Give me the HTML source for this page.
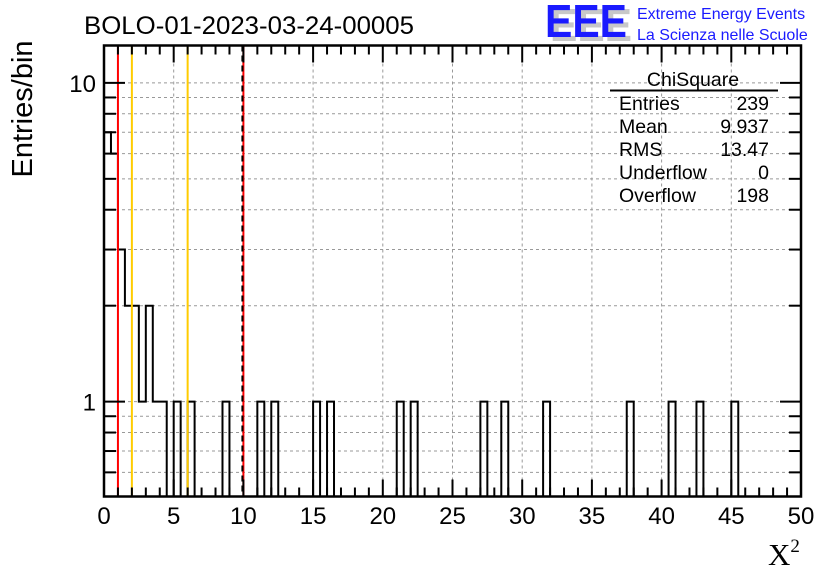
<!DOCTYPE html>
<html><head><meta charset="utf-8"><style>
html,body{margin:0;padding:0;background:#fff;}
svg{display:block;font-family:"Liberation Sans",sans-serif;}
</style></head><body>
<svg id="chart" width="836" height="572" viewBox="0 0 836 572" xmlns="http://www.w3.org/2000/svg">
<rect x="0" y="0" width="836" height="572" fill="#fff"/>
<g id="grid"></g>
<g id="hist"></g>
<g id="vlines"></g>
<g id="axes"></g>
<text x="84" y="34" font-size="25" textLength="330" lengthAdjust="spacingAndGlyphs">BOLO-01-2023-03-24-00005</text>
<g>
<text x="550" y="41" font-size="46" font-weight="bold" fill="#c8c8c8" textLength="82" lengthAdjust="spacingAndGlyphs">EEE</text>
<text x="545" y="37" font-size="46" font-weight="bold" fill="#1a1aff" textLength="82" lengthAdjust="spacingAndGlyphs">EEE</text>
<text x="637" y="19" font-size="16" fill="#1a1aff">Extreme Energy Events</text>
<text x="637" y="40" font-size="16" fill="#1a1aff">La Scienza nelle Scuole</text>
</g>
<g font-size="19.5">
<text x="693" y="86" text-anchor="middle">ChiSquare</text>
<line x1="610" y1="90.5" x2="778" y2="90.5" stroke="#000" stroke-width="2"/>
<text x="619" y="110">Entries</text><text x="769" y="110" text-anchor="end">239</text>
<text x="619" y="133">Mean</text><text x="769" y="133" text-anchor="end">9.937</text>
<text x="619" y="156">RMS</text><text x="769" y="156" text-anchor="end">13.47</text>
<text x="619" y="179">Underflow</text><text x="769" y="179" text-anchor="end">0</text>
<text x="619" y="202">Overflow</text><text x="769" y="202" text-anchor="end">198</text>
</g>
<text transform="translate(32,109) rotate(-90)" text-anchor="middle" font-size="29">Entries/bin</text>
<text x="768" y="565" font-family="'Liberation Serif',serif" font-size="31">X<tspan font-size="19" dy="-13">2</tspan></text>
</svg>
<script>
// Data
const binEdgesLow = [0,0.5,1,1.5,2,2.5,3,3.5,4,5,6,8.5,11,12,15,16,21,22,27,28.5,31.5,37.5,40.5,42.5,45];
const binCounts   = [7,6,3,2,2,1,2,1,1,1,1,1,1,1,1,1,1,1,1,1,1,1,1,1,1];
const binWidth = 0.5;
const xTicks = [0,5,10,15,20,25,30,35,40,45,50];
const yTickLabels = [1,10];
const cutLinesRed = [1,10];
const cutLinesYellow = [2,6];

const X0=104, X1=801, Y0=496.5, Y1=45.5;
const xMin=0, xMax=50, yMin=0.504, yMax=13.1;
const sx = v => X0 + (v-xMin)/(xMax-xMin)*(X1-X0);
const sy = v => Y0 - (Math.log10(v)-Math.log10(yMin))/(Math.log10(yMax)-Math.log10(yMin))*(Y0-Y1);
const NS="http://www.w3.org/2000/svg";
function mk(tag, attrs, parent){const e=document.createElementNS(NS,tag);for(const k in attrs)e.setAttribute(k,attrs[k]);parent.appendChild(e);return e;}

// grid
const grid=document.getElementById('grid');
xTicks.slice(1,-1).forEach(v=>{
  const l=mk('line',{x1:sx(v),x2:sx(v),y1:Y1,y2:Y0,stroke:'#999','stroke-width':1,'stroke-dasharray':'3,3'},grid);
  
  
});
const yGridVals=[];
[0.1,1,10].forEach(d=>{for(let m=1;m<10;m++){const v=m*d;if(v>yMin&&v<yMax)yGridVals.push(v);}});
yGridVals.forEach(v=>{
  const l=mk('line',{x1:X0,x2:X1,y1:sy(v),y2:sy(v),stroke:'#999','stroke-width':1,'stroke-dasharray':'3,3'},grid);
  
  
});

// histogram outline
const hist=document.getElementById('hist');
let d='M'+sx(0)+','+Y0;
let prevEnd=0;
for(let i=0;i<binEdgesLow.length;i++){
  const lo=binEdgesLow[i], hi=lo+binWidth, y=sy(binCounts[i]);
  if(Math.abs(lo-prevEnd)>1e-9){ d+=' L'+sx(prevEnd)+','+Y0+' L'+sx(lo)+','+Y0; }
  d+=' L'+sx(lo)+','+y+' L'+sx(hi)+','+y;
  prevEnd=hi;
}
d+=' L'+sx(prevEnd)+','+Y0;
const hp=mk('path',{d:d,fill:'none',stroke:'#000','stroke-width':2},hist);



// cut lines
const vl=document.getElementById('vlines');
cutLinesYellow.forEach(v=>{
  const l=mk('line',{x1:sx(v),x2:sx(v),y1:Y1,y2:Y0,stroke:'#ffcc00','stroke-width':2},vl);
  
  
});
cutLinesRed.forEach((v,i)=>{
  const l=mk('line',{x1:sx(v),x2:sx(v),y1:Y1,y2:Y0,stroke:'#ff0000','stroke-width':2},vl);
  
  
  if(i===cutLinesRed.length-1){
    const b=mk('line',{x1:sx(v)-1,x2:sx(v)-1,y1:Y1,y2:Y0,stroke:'#000','stroke-width':2,'stroke-dasharray':'6,4'},vl);
    
    
  }
});

// axes
const ax=document.getElementById('axes');
const fr=mk('rect',{x:X0,y:Y1,width:X1-X0,height:Y0-Y1,fill:'none',stroke:'#000','stroke-width':2.5},ax);


for(let v=0;v<=50;v++){
  const len=(v%5===0)?17:9;
  mk('line',{x1:sx(v),x2:sx(v),y1:Y0,y2:Y0-len,stroke:'#000','stroke-width':2},ax);
  mk('line',{x1:sx(v),x2:sx(v),y1:Y1,y2:Y1+len,stroke:'#000','stroke-width':2},ax);
}
xTicks.forEach(v=>{
  const t=mk('text',{x:sx(v),y:524,'text-anchor':'middle','font-size':24},ax);
  t.textContent=v;
  
  
});
yGridVals.forEach(v=>{
  const major=yTickLabels.includes(v);
  const len=major?21:12;
  mk('line',{x1:X0,x2:X0+len,y1:sy(v),y2:sy(v),stroke:'#000','stroke-width':2},ax);
  mk('line',{x1:X1,x2:X1-len,y1:sy(v),y2:sy(v),stroke:'#000','stroke-width':2},ax);
});
yTickLabels.forEach(v=>{
  const t=mk('text',{x:96,y:sy(v)+9,'text-anchor':'end','font-size':24},ax);
  t.textContent=v;
  
  
});
</script>
</body></html>
